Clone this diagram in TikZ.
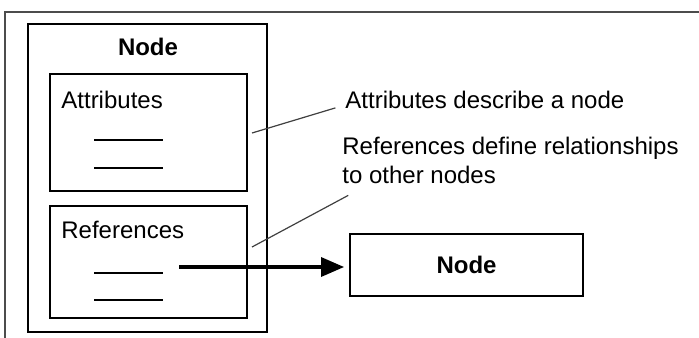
\documentclass[tikz,border=0pt]{standalone}
\usepackage{fontspec}
\setmainfont{Liberation Sans}
\usetikzlibrary{arrows.meta}

\begin{document}
\begin{tikzpicture}[x=0.5pt,y=-0.5pt,
  box/.style={draw, line width=0.9pt, inner sep=0pt},
  txt/.style={inner sep=0pt, font=\fontsize{12}{14.5}\selectfont},
  blank/.style={line width=0.6pt},
  callout/.style={draw=black!75, line width=0.6pt}]
\useasboundingbox (0,0) rectangle (699,337);
% Frame
\draw[black!70, line width=0.8pt] (5,345) |- (705,12);

% Boxes
\node[box, minimum width=119.5pt, minimum height=154pt] (outer) at (147.5,178) {};
\node[box, minimum width=98.5pt, minimum height=58.5pt] (attr) at (148.5,132.5) {};
\node[box, minimum width=98.5pt, minimum height=56pt] (refs) at (148.5,262) {};
\node[box, minimum width=116.5pt, minimum height=31pt] (other) at (466.5,265) {};

% Texts
\node[txt, font=\fontsize{12}{14.5}\selectfont\bfseries] (title) at (148,47) {Node};
\node[txt, anchor=west] (attrlbl) at (61,100) {Attributes};
\node[txt, anchor=west] (refslbl) at (61,230) {References};
\node[txt, font=\fontsize{12}{14.5}\selectfont\bfseries] (otherlbl) at (other) {Node};
\node[txt, anchor=west] (attrnote) at (345,100) {Attributes describe a node};
\node[txt, anchor=north west, align=left] (refsnote) at (342,137) {References define relationships\\to other nodes};

% Blank fields
\draw[blank] (94,140) -- (163,140);
\draw[blank] (94,168) -- (163,168);
\draw[blank] (94,273) -- (163,273);
\draw[blank] (94,300) -- (163,300);

% Callouts
\coordinate (c1) at (252,133);
\coordinate (c2) at (252,247);
\draw[callout, shorten >=5pt] (c1) -- ([yshift=-2.5pt]attrnote.west);
\draw[callout, shorten >=1pt] (c2) -- ([xshift=4pt,yshift=-5pt]refsnote.south west);

% Reference arrow
\coordinate (refout) at (179,267);
\draw[line width=1.6pt, -{Triangle[length=11.5pt,width=9.5pt]}, shorten >=2.5pt] (refout) -- (refout -| other.west);
\end{tikzpicture}
\end{document}
